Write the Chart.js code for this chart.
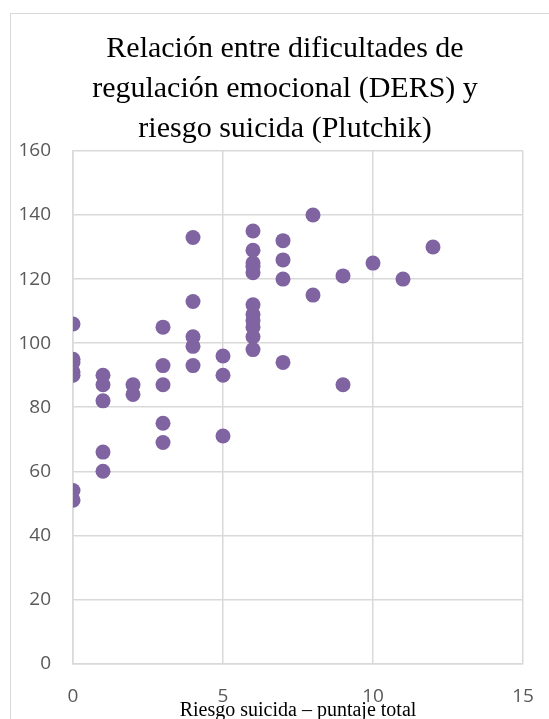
<!DOCTYPE html>
<html lang="es">
<head>
<meta charset="utf-8">
<title>Relación DERS y riesgo suicida</title>
<script src="https://cdn.jsdelivr.net/npm/chart.js@4/dist/chart.umd.min.js"></script>
<style>
    html, body { margin: 0; padding: 0; background: #fff; overflow: hidden; width: 549px; height: 719px; }
    .chart-frame { position: absolute; left: 10px; top: 13px; width: 600px; height: 800px; border: 1px solid #d9d9d9; }
    .chart-container { position: absolute; left: 0; top: 0; width: 570px; height: 719px; }
</style>
</head>
<body>
<div class="chart-frame"></div>
<div class="chart-container">
    <canvas id="scatterChart" width="570" height="719"></canvas>
</div>
<script>
// Riesgo suicida (Plutchik) - puntaje total de cada participante
const riesgo = [
    0, 0, 0, 0, 0, 0, 0,
    1, 1, 1, 1, 1,
    2, 2,
    3, 3, 3, 3, 3,
    4, 4, 4, 4, 4,
    5, 5, 5,
    6, 6, 6, 6, 6, 6, 6, 6, 6, 6, 6,
    7, 7, 7, 7,
    8, 8,
    9, 9,
    10,
    11,
    12
];

// Puntaje DERS correspondiente
const ders = [
    106, 95, 94, 91, 90, 54, 51,
    90, 87, 82, 66, 60,
    87, 84,
    105, 93, 87, 75, 69,
    133, 113, 102, 99, 93,
    96, 90, 71,
    135, 129, 125, 124, 122, 112, 109, 107, 105, 102, 98,
    132, 126, 120, 94,
    140, 115,
    121, 87,
    125,
    120,
    130
];

// Ticks de los ejes
const xTicks = [0, 5, 10, 15];
const yTicks = [0, 20, 40, 60, 80, 100, 120, 140, 160];

const tituloLineas = [
    'Relación entre dificultades de',
    'regulación emocional (DERS) y',
    'riesgo suicida (Plutchik)'
];
const tituloEjeX = 'Riesgo suicida – puntaje total';

document.addEventListener('DOMContentLoaded', function() {
    initializeScatter();
});

// el título va centrado en todo el marco del gráfico, no solo hasta el borde derecho del área
const centrarTitulo = {
    id: 'centrarTitulo',
    afterLayout(chart) {
        if (chart.titleBlock) {
            chart.titleBlock.left = 0;
            chart.titleBlock.right = chart.width;
        }
    }
};

function initializeScatter() {
    const ctx = document.getElementById('scatterChart').getContext('2d');
    const points = riesgo.map((x, i) => ({ x: x, y: ders[i] }));

    const tickFont = { family: '"Open Sans", sans-serif', size: 19 };
    const gridColor = '#d9d9d9';

    new Chart(ctx, {
        type: 'scatter',
        data: {
            datasets: [{
                label: 'DERS',
                data: points,
                backgroundColor: '#8064a2',
                borderWidth: 0,
                pointRadius: 7.5,
                pointHoverRadius: 7.5
            }]
        },
        options: {
            responsive: false,
            animation: false,
            devicePixelRatio: 1,
            layout: { padding: { left: 0, right: 47, top: 0, bottom: 0 } },
            plugins: {
                legend: { display: false },
                tooltip: { enabled: false },
                title: {
                    display: true,
                    text: tituloLineas,
                    color: '#000',
                    font: { family: '"Liberation Serif", serif', size: 30, weight: 'normal', lineHeight: 1.333 },
                    padding: { top: 29, bottom: 2 }
                }
            },
            scales: {
                x: {
                    type: 'linear',
                    min: 0,
                    max: 15,
                    afterBuildTicks: s => { s.ticks = xTicks.map(v => ({ value: v })); },
                    afterFit: s => { s.height = 55.5; },
                    ticks: { color: '#595959', font: tickFont, padding: 22, maxRotation: 0 },
                    grid: { color: gridColor, lineWidth: 1.5, drawTicks: false },
                    border: { color: gridColor, width: 1.5 },
                    title: {
                        display: true,
                        text: tituloEjeX,
                        color: '#000',
                        font: { family: '"Liberation Serif", serif', size: 20, lineHeight: 1.2 },
                        padding: { top: 0, bottom: -4 }
                    }
                },
                y: {
                    type: 'linear',
                    min: 0,
                    max: 160,
                    afterBuildTicks: s => { s.ticks = yTicks.map(v => ({ value: v })); },
                    afterFit: s => { s.width = 73; },
                    ticks: { color: '#595959', font: tickFont, padding: 22 },
                    grid: { color: gridColor, lineWidth: 1.5, drawTicks: false },
                    border: { color: gridColor, width: 1.5 }
                }
            }
        },
        plugins: [centrarTitulo]
    });
}
</script>
</body>
</html>
